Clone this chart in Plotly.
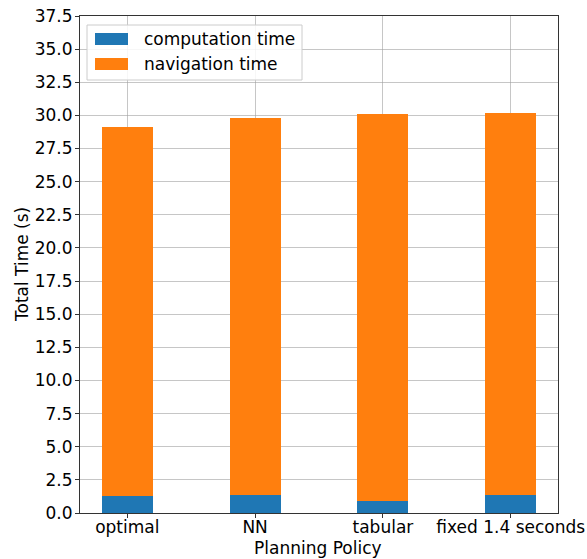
import plotly.graph_objects as go

# Planning policies and their mean time breakdown (seconds)
policies = ["optimal", "NN", "tabular", "fixed 1.4 seconds"]
computation_time = [1.25, 1.38, 0.88, 1.38]
navigation_time = [27.88, 28.43, 29.23, 28.81]

series_names = ["computation time", "navigation time"]
series_colors = ["#1f77b4", "#ff7f0e"]

FONT = "DejaVu Sans"
FS = 17

fig = go.Figure()
for name, vals, col in zip(series_names, [computation_time, navigation_time], series_colors):
    fig.add_trace(go.Bar(
        x=list(range(len(policies))), y=vals, name=name,
        marker=dict(color=col, line=dict(width=0)),
        width=0.4, showlegend=False,
    ))

axis_common = dict(
    showline=True, linecolor="#333333", linewidth=1.2, mirror=True,
    ticks="outside", ticklen=4, tickwidth=1.2, tickcolor="#333333",
    showgrid=True, gridcolor="rgba(160,160,160,0.6)", gridwidth=1,
    zeroline=False, layer="above traces", automargin=False,
    tickfont=dict(family=FONT, size=FS, color="black"),
)

fig.update_layout(
    width=587, height=559,
    margin=dict(l=80, r=29, t=16, b=46),
    paper_bgcolor="white", plot_bgcolor="white",
    barmode="stack", bargap=0,
    font=dict(family=FONT, size=FS, color="black"),
    xaxis=dict(
        **axis_common,
        range=[-0.37, 3.37], ticklabelstandoff=-6,
        tickmode="array", tickvals=list(range(len(policies))), ticktext=policies,
    ),
    yaxis=dict(
        **axis_common,
        range=[0, 37.5], dtick=2.5, tick0=0, tickformat=".1f", ticklabelstandoff=-1,
    ),
)

# Pixel helpers for the axes box
L, R, T, B = 80, 558, 16, 513
pw, ph = R - L, B - T


def px(x):
    return (x - L) / pw


def py(y):
    return (B - y) / ph


# Axis titles
fig.add_annotation(xref="paper", yref="paper", x=px(318), y=py(548),
                   xanchor="center", yanchor="middle", text="Planning Policy",
                   showarrow=False, font=dict(family=FONT, size=FS, color="black"))
fig.add_annotation(xref="paper", yref="paper", x=px(22), y=py(265),
                   xanchor="center", yanchor="middle", text="Total Time (s)", textangle=-90,
                   showarrow=False, font=dict(family=FONT, size=FS, color="black"))

# Legend box in the upper-left corner of the axes
fig.add_shape(type="rect", xref="paper", yref="paper",
              x0=px(87), x1=px(302), y0=py(80), y1=py(25),
              line=dict(color="#cccccc", width=1), fillcolor="rgba(255,255,255,0.85)",
              layer="above")
for i, (name, col) in enumerate(zip(series_names, series_colors)):
    yc = 39 + i * 25
    fig.add_shape(type="rect", xref="paper", yref="paper",
                  x0=px(95), x1=px(128), y0=py(yc + 6), y1=py(yc - 6),
                  line=dict(width=0), fillcolor=col, layer="above")
    fig.add_annotation(xref="paper", yref="paper", x=px(142), y=py(yc),
                       xanchor="left", yanchor="middle", text=name, showarrow=False,
                       font=dict(family=FONT, size=FS, color="black"))

fig.write_html("out.html")
